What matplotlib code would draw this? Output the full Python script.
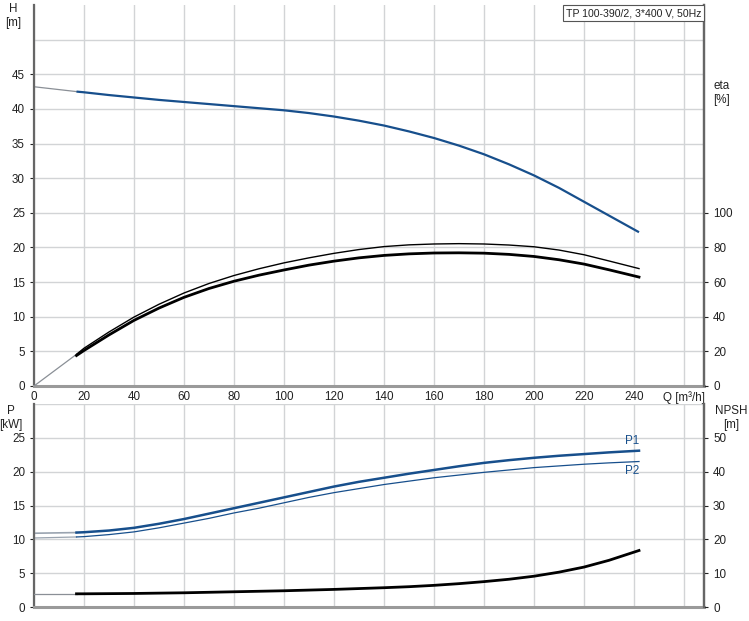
import matplotlib
matplotlib.use("Agg")
import matplotlib.pyplot as plt

plt.rcParams['font.family'] = ['Liberation Sans', 'DejaVu Sans']

# ---- data ----
q = [0, 17, 20, 30, 40, 50, 60, 70, 80, 90, 100, 110, 120, 130, 140, 150,
     160, 170, 180, 190, 200, 210, 220, 230, 242]
head = [43.2, 42.5, 42.4, 42.0, 41.65, 41.3, 41.0, 40.7, 40.4, 40.1, 39.8, 39.4,
        38.9, 38.3, 37.6, 36.75, 35.8, 34.7, 33.45, 32.0, 30.4, 28.6, 26.6, 24.6, 22.2]
eta_upper = [0, 18.3, 21.8, 31.2, 39.8, 47.2, 53.7, 59.2, 63.8, 67.7, 71.1, 74.0,
             76.6, 78.8, 80.5, 81.5, 82.0, 82.2, 82.0, 81.4, 80.4, 78.5, 75.8, 72.2, 67.8]
eta_lower = [0, 17.6, 20.5, 29.5, 37.9, 45.0, 51.2, 56.3, 60.5, 64.0, 67.0, 69.8,
             72.1, 74.0, 75.4, 76.3, 76.8, 76.9, 76.7, 76.0, 74.8, 72.9, 70.4, 67.1, 62.9]
p1 = [10.9, 11.0, 11.05, 11.3, 11.7, 12.3, 13.0, 13.8, 14.6, 15.4, 16.2, 17.0,
      17.8, 18.5, 19.1, 19.7, 20.25, 20.8, 21.3, 21.7, 22.05, 22.35, 22.6, 22.85, 23.1]
p2 = [10.2, 10.35, 10.4, 10.7, 11.1, 11.7, 12.4, 13.1, 13.9, 14.6, 15.4, 16.2,
      16.9, 17.5, 18.1, 18.6, 19.1, 19.5, 19.9, 20.25, 20.6, 20.85, 21.1, 21.3, 21.5]
npsh = [3.9, 3.9, 3.9, 3.95, 4.0, 4.1, 4.2, 4.35, 4.5, 4.65, 4.8, 5.0,
        5.2, 5.45, 5.7, 6.0, 6.4, 6.9, 7.5, 8.2, 9.1, 10.3, 11.8, 13.8, 16.7]

x_ticks = [0, 20, 40, 60, 80, 100, 120, 140, 160, 180, 200, 220, 240, 260]
x_labels = ['0', '20', '40', '60', '80', '100', '120', '140', '160', '180',
            '200', '220', '240', 'Q [m³/h]']
h_ticks = [0, 5, 10, 15, 20, 25, 30, 35, 40, 45]
eta_ticks = [0, 20, 40, 60, 80, 100]
p_ticks = [0, 5, 10, 15, 20, 25]
npsh_ticks = [0, 10, 20, 30, 40, 50]
title_text = 'TP 100-390/2, 3*400 V, 50Hz'

# ---- style ----
W, H = 749, 621
BLUE = '#174f8c'
GRID = '#d2d4d6'
TXT = '#222222'
FS = 8.4
THIN = '#8a8f96'

fig = plt.figure(figsize=(W / 100, H / 100), dpi=100)


def rect(l, t, r, b):
    return [l / W, 1 - b / H, (r - l) / W, (b - t) / H]


ax1 = fig.add_axes(rect(34, 5, 704, 386))
ax2 = fig.add_axes(rect(34, 404, 704, 607))

for ax in (ax1, ax2):
    ax.set_xlim(0, 268)
    ax.set_xticks(x_ticks)
    ax.grid(True, color=GRID, lw=1.0)
    ax.set_axisbelow(True)
    ax.spines['top'].set_visible(False)
    ax.spines['left'].set_color('#666666')
    ax.spines['left'].set_linewidth(1.6)
    ax.spines['right'].set_color('#666666')
    ax.spines['right'].set_linewidth(1.6)
    ax.spines['bottom'].set_color('#9a9a9a')
    ax.spines['bottom'].set_linewidth(2.2)
    ax.tick_params(axis='both', labelsize=FS, colors=TXT, length=3, width=0.8,
                   direction='out')
    ax.tick_params(axis='x', length=0)

ax1.set_xticklabels(x_labels)
ax2.set_xticklabels([])

# top panel
ax1.set_ylim(0, 55)
ax1.set_yticks(h_ticks)
ax1.axhline(50, color=GRID, lw=1.0, zorder=0)

ax1.plot(q[:2], head[:2], color=THIN, lw=0.9)
ax1.plot(q[1:], head[1:], color=BLUE, lw=1.6, solid_capstyle='butt')

ax1e = ax1.twinx()
ax1e.set_ylim(0, 220)
ax1e.set_yticks(eta_ticks)
ax1e.tick_params(axis='y', labelsize=FS, colors=TXT, length=3, width=0.8)
for s in ('top', 'left', 'bottom'):
    ax1e.spines[s].set_visible(False)
ax1e.spines['right'].set_color('#666666')
ax1e.spines['right'].set_linewidth(1.6)
ax1e.plot(q[:2], eta_upper[:2], color=THIN, lw=0.9)
ax1e.plot(q[1:], eta_upper[1:], color='black', lw=1.0)
ax1e.plot(q[1:], eta_lower[1:], color='black', lw=2.0)

# bottom panel
ax2.set_ylim(0, 30)
ax2.set_yticks(p_ticks)
ax2.axhline(30, color=GRID, lw=1.0, zorder=0)
ax2.plot(q[:2], p1[:2], color='#9aa4b0', lw=1.2)
ax2.plot(q[1:], p1[1:], color=BLUE, lw=1.8)
ax2.plot(q[:2], p2[:2], color='#9aa4b0', lw=0.9)
ax2.plot(q[1:], p2[1:], color=BLUE, lw=0.9)
ax2.text(q[-1], p1[-1] + 0.5, 'P1', color=BLUE, fontsize=FS, ha='right', va='bottom')
ax2.text(q[-1], p2[-1] - 0.5, 'P2', color=BLUE, fontsize=FS, ha='right', va='top')

ax2n = ax2.twinx()
ax2n.set_ylim(0, 60)
ax2n.set_yticks(npsh_ticks)
ax2n.tick_params(axis='y', labelsize=FS, colors=TXT, length=3, width=0.8)
for s in ('top', 'left', 'bottom'):
    ax2n.spines[s].set_visible(False)
ax2n.spines['right'].set_color('#666666')
ax2n.spines['right'].set_linewidth(1.6)
ax2n.plot(q[:2], npsh[:2], color=THIN, lw=0.9)
ax2n.plot(q[1:], npsh[1:], color='black', lw=2.0)


def ftext(px, py, s, **kw):
    fig.text(px / W, 1 - py / H, s, fontsize=FS, color=TXT, **kw)


ftext(13, 16, 'H\n[m]', ha='center', va='center', linespacing=1.15)
ftext(722, 93, 'eta\n[%]', ha='center', va='center', linespacing=1.15)
ftext(11, 418, 'P\n[kW]', ha='center', va='center', linespacing=1.15)
ftext(731, 418, 'NPSH\n[m]', ha='center', va='center', linespacing=1.15)

fig.text(701 / W, 1 - 13 / H, title_text, fontsize=7.6, color=TXT, ha='right',
         va='center',
         bbox=dict(boxstyle='square,pad=0.25', fc='white', ec='#555555', lw=0.8))

fig.savefig('out.png', dpi=100)
